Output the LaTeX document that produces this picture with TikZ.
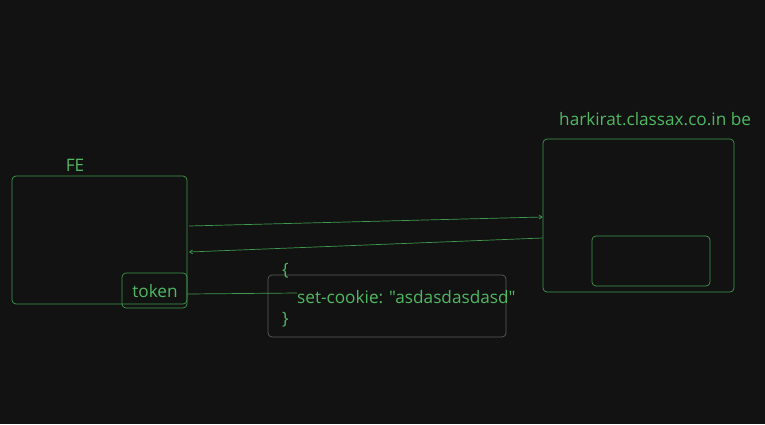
\documentclass[tikz,border=0pt]{standalone}
\usepackage{fontspec}
\newfontfamily\uifont{Open Sans}
\usetikzlibrary{arrows.meta}
\definecolor{bg}{HTML}{121212}
\definecolor{ink}{HTML}{3F9A4E}
\definecolor{txt}{HTML}{4FB862}
\definecolor{greybox}{HTML}{5A5F5A}
\tikzset{
  box/.style={draw=ink, line width=0.7pt, rounded corners=4pt, inner sep=0pt},
  label/.style={text=txt, font=\uifont\fontsize{17.2}{20}\selectfont, inner sep=0pt},
  link/.style={draw=ink, line width=0.7pt, -{Straight Barb[length=3pt,width=4pt]}}
}
\begin{document}
\begin{tikzpicture}[x=1pt, y=-1pt]
  \fill[bg] (0,0) rectangle (765,424);
  \useasboundingbox (0,0) rectangle (765,424);
  % frontend
  \node[box, minimum width=175pt, minimum height=128pt] (fe) at (99.5,240) {};
  \node[label] (felabel) at (75,165) {FE};
  \node[box, minimum width=65pt, minimum height=35pt] (token) at (154.5,290.5) {};
  \node[label] (tokentext) at (155,291) {token};
  % backend
  \node[box, minimum width=191pt, minimum height=153pt] (be) at (638.5,215.5) {};
  \node[label, anchor=west] (belabel) at (559,119) {harkirat.classax.co.in be};
  \node[box, minimum width=118pt, minimum height=50pt] (store) at (651,261) {};
  % cookie payload
  \node[box, draw=greybox, minimum width=238pt, minimum height=62pt] (cookie) at (387,306) {};
  \node[label, anchor=west] (open) at (282,271) {\{};
  \node[label, anchor=west] (setcookie) at (297,297) {set-cookie: "asdasdasdasd"};
  \node[label, anchor=west] (close) at (282,320) {\}};
  % requests
  \coordinate (req) at (189,226);
  \coordinate (res) at (189,252);
  \draw[link] (req) -- (be.west |- 0,217);
  \draw[link] (be.west |- 0,238) -- (res);
  \draw[draw=ink, line width=0.7pt] (token.east |- 0,294) -- (setcookie.west |- 0,293);
\end{tikzpicture}
\end{document}
